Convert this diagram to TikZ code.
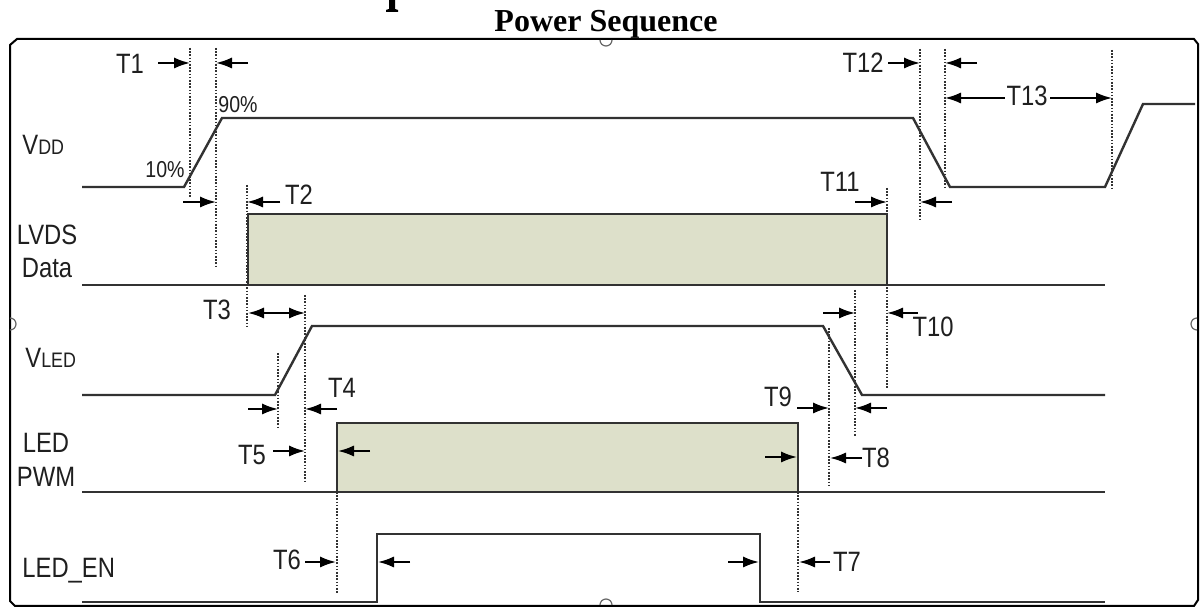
\documentclass[tikz,border=0pt]{standalone}
\usepackage{fontspec}
\setmainfont{Liberation Serif}
\newfontfamily\lblfont[FakeStretch=0.85]{Liberation Sans}
\usetikzlibrary{arrows.meta}
\definecolor{wavec}{RGB}{50,50,50}
\definecolor{boxfill}{RGB}{221,224,202}
\definecolor{dotc}{RGB}{50,50,50}
\begin{document}
\begin{tikzpicture}[x=0.5pt,y=-0.5pt,
  wave/.style={draw=wavec,line width=1.2pt,line join=miter},
  databox/.style={fill=boxfill,draw=wavec,line width=1.2pt},
  guide/.style={draw=dotc,line width=0.9pt,dash pattern=on 0.8pt off 0.8pt},
  tarr/.style={draw=black,line width=1pt,-{Latex[length=8pt,width=5.6pt]}},
  tdarr/.style={draw=black,line width=1pt,{Latex[length=8pt,width=5.6pt]}-{Latex[length=8pt,width=5.6pt]}},
  lab/.style={font=\lblfont\fontsize{14pt}{17pt}\selectfont,inner sep=0pt,text=black!88,anchor=base},
  pct/.style={font=\lblfont\fontsize{11.5pt}{13pt}\selectfont,inner sep=0pt,text=black!88,anchor=base west},
  frame/.style={draw=black,line width=1pt},
  handle/.style={draw=black!60,line width=0.6pt}
]
\fill[white] (0,0) rectangle (1201,608);
\useasboundingbox (0,0) rectangle (1201,608);

% title
\node[font=\bfseries\fontsize{16pt}{18pt}\selectfont,inner sep=0pt,anchor=base] (title) at (606,32) {Power Sequence};
% cropped descender of a heading above the picture
\fill[black] (389,0) -- (395,0) -- (395,9) -- (398,10) -- (398,12) -- (386,12) -- (386,10) -- (389,9) -- cycle;

% frame
\draw[frame] (17,39) -- (1194,39) -- (1198,44) -- (1198,600) -- (1194,606) -- (15,606) -- (10,601) -- (10,45) -- cycle;
\draw[handle] (600,40) arc[start angle=180,end angle=0,radius=6];
\draw[handle] (10,318) arc[start angle=-90,end angle=90,radius=6];
\draw[handle] (1197,318) arc[start angle=-90,end angle=-270,radius=6];
\draw[handle] (600,605) arc[start angle=180,end angle=360,radius=6];

% guides (dotted)
\draw[guide] (190,48) -- (190,197);
\draw[guide] (216,48) -- (216,268);
\draw[guide] (247,185) -- (247,328);
\draw[guide] (305,295) -- (305,483);
\draw[guide] (278,353) -- (278,428);
\draw[guide] (337,492) -- (337,593);
\draw[guide] (798,492) -- (798,592);
\draw[guide] (829,328) -- (829,485);
\draw[guide] (855,290) -- (855,437);
\draw[guide] (887,188) -- (887,388);
\draw[guide] (920,49) -- (920,220);
\draw[guide] (945,49) -- (945,188);
\draw[guide] (1112,50) -- (1112,190);

% waveforms
\draw[wave] (82,187) -- (184,187) -- (222,118) -- (913,118) -- (950,187) -- (1105,187) -- (1143,104) -- (1195,104);
\draw[wave] (82,285) -- (1105,285);
\draw[databox] (248,214) rectangle (887,285);
\draw[wave] (82,395) -- (275,395) -- (312,326) -- (823,326) -- (862,395) -- (1105,395);
\draw[wave] (82,492) -- (1105,492);
\draw[databox] (337,423) rectangle (798,492);
\draw[wave] (82,602) -- (377,602) -- (377,534) -- (760,534) -- (760,602) -- (1105,602);

% signal labels
\node[lab,anchor=base west] (vdd) at (22,155) {V{\fontsize{10.5pt}{12pt}\selectfont DD}};
\node[lab] (lvds) at (47,245) {LVDS};
\node[lab] (data) at (47,278) {Data};
\node[lab,anchor=base west] (vled) at (25,368) {V{\fontsize{10.5pt}{12pt}\selectfont LED}};
\node[lab] (led) at (46,453) {LED};
\node[lab] (pwm) at (46,487) {PWM};
\node[lab,anchor=base west] (leden) at (22,578) {LED\_EN};
\node[pct] (p90) at (218,113) {90\%};
\node[pct] (p10) at (145,178) {10\%};

% timing labels
\node[lab] (t1) at (130,74) {T1};
\node[lab] (t2) at (299,205) {T2};
\node[lab] (t3) at (217,320) {T3};
\node[lab] (t4) at (342,398) {T4};
\node[lab] (t5) at (252,465) {T5};
\node[lab] (t6) at (287,570) {T6};
\node[lab] (t7) at (847,572) {T7};
\node[lab] (t8) at (876,468) {T8};
\node[lab] (t9) at (778,407) {T9};
\node[lab] (t10) at (933,337) {T10};
\node[lab] (t11) at (840,192) {T11};
\node[lab] (t12) at (863,73) {T12};

% arrows
\draw[tarr] (158,63) -- (190,63);
\draw[tarr] (248,63) -- (216,63);
\draw[tarr] (183,202) -- (216,202);
\draw[tarr] (280,202) -- (247,202);
\draw[tdarr] (248,313) -- (305,313);
\draw[tarr] (248,409) -- (278,409);
\draw[tarr] (337,409) -- (305,409);
\draw[tarr] (273,451) -- (305,451);
\draw[tarr] (370,451) -- (338,451);
\draw[tarr] (765,457) -- (797,457);
\draw[tarr] (305,562) -- (336,562);
\draw[tarr] (410,562) -- (378,562);
\draw[tarr] (728,562) -- (759,562);
\draw[tarr] (830,562) -- (799,562);
\draw[tarr] (862,458) -- (830,458);
\draw[tarr] (797,408) -- (829,408);
\draw[tarr] (887,408) -- (855,408);
\draw[tarr] (823,313) -- (855,313);
\draw[tarr] (918,313) -- (887,313);
\draw[tarr] (855,202) -- (887,202);
\draw[tarr] (952,202) -- (920,202);
\draw[tarr] (888,63) -- (920,63);
\draw[tarr] (977,63) -- (945,63);
\draw[tdarr] (945,98) -- (1112,98);
\node[lab,fill=white,inner xsep=1pt,inner ysep=0pt] (t13) at (1027,106) {T13};
\end{tikzpicture}
\end{document}
